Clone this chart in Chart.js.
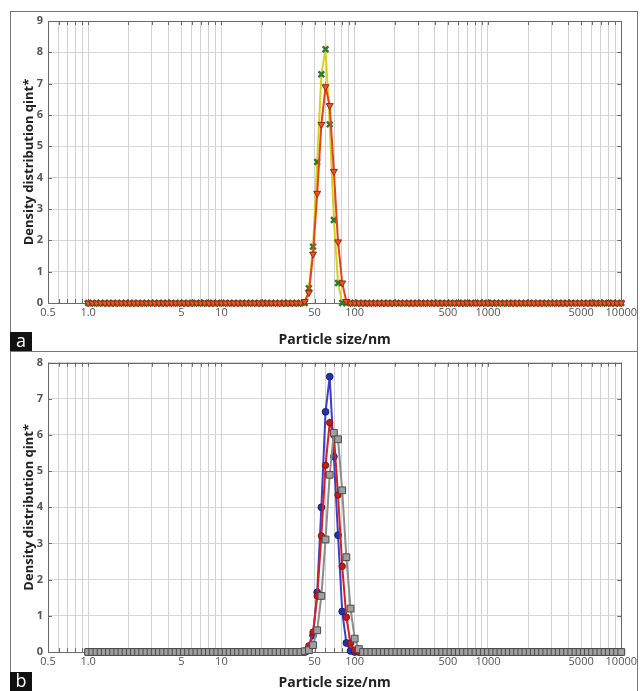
<!DOCTYPE html>
<html>
<head>
<meta charset="utf-8">
<script src="https://cdn.jsdelivr.net/npm/chart.js@4.4.0/dist/chart.umd.min.js"></script>
<style>
  body { margin: 0; background: #fff; width: 640px; height: 691px; overflow: hidden; position: relative; }
  .panel { position: absolute; left: 10px; width: 628px; border: 1px solid #777; box-sizing: border-box; }
  #pa { top: 11px; height: 341px; }
  #pb { top: 352px; height: 345px; border-top: none; }
  canvas { position: absolute; left: 0; }
  #ca { top: 0; }
  #cb { top: 351px; }
  .tag { position: absolute; left: 10px; width: 22px; height: 19px; background: #111; color: #fff;
         font: 18px "Open Sans", sans-serif; line-height: 16px; text-align: center; }
</style>
</head>
<body>
<div class="panel" id="pa"></div>
<div class="panel" id="pb"></div>
<canvas id="ca" width="640" height="351"></canvas>
<canvas id="cb" width="640" height="340"></canvas>
<div class="tag" style="top:332px">a</div>
<div class="tag" style="top:672px">b</div>

<script>
// size classes (nm): 32 per decade from 1 to 10000
const sizeMantissa = [1.000, 1.075, 1.155, 1.241, 1.334, 1.433, 1.540, 1.655,
                      1.778, 1.911, 2.054, 2.207, 2.371, 2.548, 2.738, 2.943,
                      3.162, 3.398, 3.652, 3.924, 4.217, 4.532, 4.870, 5.233,
                      5.623, 6.043, 6.494, 6.978, 7.499, 8.058, 8.660, 9.306];
const sizeDecades = [1, 10, 100, 1000];
const sizeLast = 10000;

// density values around the peak, starting at size class 52 (~42 nm); zero elsewhere
const peakStart = 52;
const aRedPeak   = [0.05, 0.33, 1.56, 3.5, 5.7, 6.9, 6.3, 4.2, 1.95, 0.64, 0.05];
const aGreenPeak = [0, 0.47, 1.8, 4.5, 7.3, 8.1, 5.7, 2.65, 0.64, 0];
const bGrayPeak  = [0.02, 0.05, 0.19, 0.6, 1.55, 3.11, 4.9, 6.06, 5.88, 4.47, 2.62, 1.2, 0.37, 0.08, 0];
const bRedPeak   = [0.03, 0.17, 0.55, 1.55, 3.21, 5.16, 6.34, 6.0, 4.34, 2.37, 0.96, 0.24, 0.05, 0];
const bBluePeak  = [0, 0.1, 0.46, 1.65, 4.0, 6.64, 7.61, 5.4, 3.23, 1.12, 0.25, 0.03, 0];

// x axis ticks
const xGridStart = [0.5, 0.6, 0.7, 0.8, 0.9];
const xGridMantissa = [1, 2, 3, 4, 5, 6, 7, 8, 9];
const xLabelValues = [0.5, 1, 5, 10, 50, 100, 500, 1000, 5000, 10000];
const xLabelTexts = ["0.5", "1.0", "5", "10", "50", "100", "500", "1000", "5000", "10000"];

const sizes = sizeDecades
    .flatMap(d => sizeMantissa.map(m => +(m * d).toPrecision(4)))
    .concat([sizeLast]);

const xGrid = xGridStart
    .concat(sizeDecades.flatMap(d => xGridMantissa.map(m => m * d)))
    .concat([sizeLast]);

function series(peak) {
    return sizes.map((d, i) => ({ x: d, y: peak[i - peakStart] ?? 0 }));
}

const FONT = "'Open Sans', sans-serif";

// plot frame with small inward ticks
const framePlugin = {
    id: "frame",
    beforeDatasetsDraw(chart) {
        const { ctx, chartArea: a, scales } = chart;
        ctx.save();
        ctx.strokeStyle = "#6a6a6a";
        ctx.lineWidth = 1;
        ctx.strokeRect(Math.round(a.left) + 0.5, Math.round(a.top) + 0.5,
                       Math.round(a.right - a.left), Math.round(a.bottom - a.top));
        ctx.beginPath();
        xGrid.forEach(v => {
            const x = Math.round(scales.x.getPixelForValue(v)) + 0.5;
            ctx.moveTo(x, a.bottom); ctx.lineTo(x, a.bottom - 4);
            ctx.moveTo(x, a.top); ctx.lineTo(x, a.top + 4);
        });
        scales.y.ticks.forEach(t => {
            const y = Math.round(scales.y.getPixelForValue(t.value)) + 0.5;
            ctx.moveTo(a.left, y); ctx.lineTo(a.left + 4, y);
            ctx.moveTo(a.right, y); ctx.lineTo(a.right - 4, y);
        });
        ctx.stroke();
        ctx.restore();
    }
};

function makeOptions(yMax, pad) {
    return {
        responsive: false,
        animation: false,
        layout: { padding: { left: 12, right: 17, top: pad.top, bottom: 0 } },
        plugins: { legend: { display: false }, tooltip: { enabled: false } },
        scales: {
            x: {
                type: "logarithmic",
                min: 0.5,
                max: 10000,
                afterBuildTicks: s => { s.ticks = xGrid.map(v => ({ value: v })); },
                afterFit: s => { s.height = pad.xHeight; },
                grid: { color: "#d2d2d2", drawTicks: false },
                border: { display: false },
                ticks: {
                    autoSkip: false,
                    maxRotation: 0,
                    padding: 3,
                    color: "#555",
                    font: { family: FONT, size: 11 },
                    callback: v => {
                        const k = xLabelValues.findIndex(u => Math.abs(u - v) < 1e-6 * u);
                        return k < 0 ? "" : xLabelTexts[k];
                    }
                },
                title: {
                    display: true,
                    text: "Particle size/nm",
                    color: "#222",
                    padding: { top: 0, bottom: pad.titleBottom },
                    font: { family: FONT, size: 14, weight: "bold" }
                }
            },
            y: {
                min: 0,
                max: yMax,
                afterFit: s => { s.width = 36; },
                grid: { color: "#d6d6d6", drawTicks: false },
                border: { display: false },
                ticks: {
                    stepSize: 1,
                    padding: 5,
                    color: "#555",
                    font: { family: FONT, size: 11, weight: "bold" }
                },
                title: {
                    display: true,
                    text: "Density distribution qint*",
                    color: "#222",
                    padding: { top: 9, bottom: 0 },
                    font: { family: FONT, size: 13, weight: "bold" }
                }
            }
        }
    };
}

function lineSet(label, peak, st) {
    return Object.assign({
        label: label,
        data: series(peak),
        borderWidth: 2,
        pointBorderWidth: 1,
        tension: 0,
        clip: false
    }, st);
}

new Chart(document.getElementById("ca"), {
    type: "line",
    data: {
        datasets: [
            lineSet("Sample 1", aRedPeak, {
                borderColor: "#e2421c",
                pointStyle: "triangle",
                rotation: 180,
                pointRadius: 4,
                pointBackgroundColor: "#e8581e",
                pointBorderColor: "#9c2410"
            }),
            lineSet("Sample 2", aGreenPeak, {
                borderColor: "#d6d21c",
                pointStyle: "crossRot",
                pointRadius: 4,
                pointBorderWidth: 2.5,
                pointBorderColor: "#2c7a2c"
            })
        ]
    },
    options: makeOptions(9, { top: 21, xHeight: 48, titleBottom: 3 }),
    plugins: [framePlugin]
});

new Chart(document.getElementById("cb"), {
    type: "line",
    data: {
        datasets: [
            lineSet("Sample 3", bGrayPeak, {
                borderColor: "#8c8c8c",
                pointStyle: "rect",
                pointRadius: 4.8,
                pointBackgroundColor: "#a0a0a0",
                pointBorderColor: "#4a4a4a"
            }),
            lineSet("Sample 4", bRedPeak, {
                borderColor: "#d42222",
                pointStyle: "circle",
                pointRadius: 3.2,
                pointBackgroundColor: "#c21a1a",
                pointBorderColor: "#8a1010"
            }),
            lineSet("Sample 5", bBluePeak, {
                borderColor: "#3e3ec8",
                pointStyle: "circle",
                pointRadius: 3.4,
                pointBackgroundColor: "#2434a4",
                pointBorderColor: "#18207a"
            })
        ]
    },
    options: makeOptions(8, { top: 7, xHeight: 39, titleBottom: 0 }),
    plugins: [framePlugin]
});
</script>
</body>
</html>
